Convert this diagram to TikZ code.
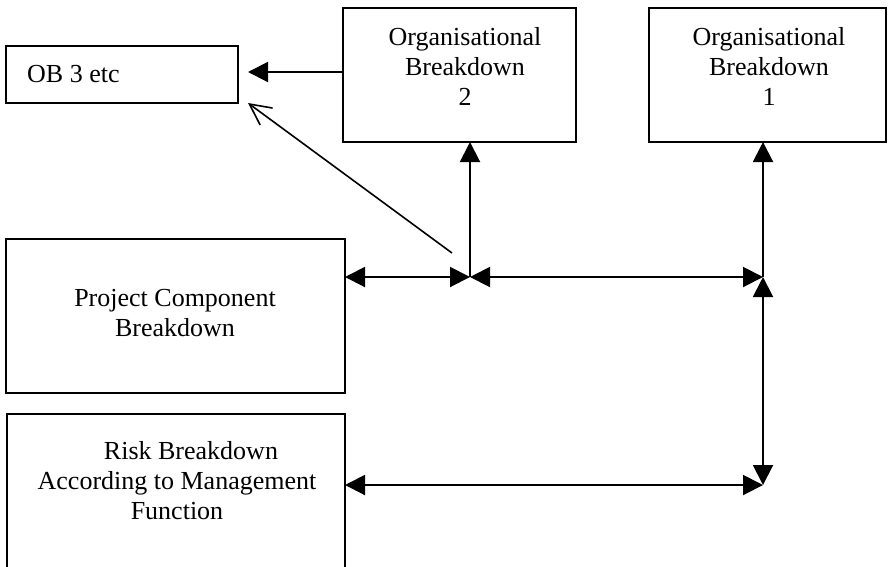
\documentclass[tikz,border=0pt]{standalone}
\usepackage{fontspec}
\setmainfont{Liberation Serif}
\usetikzlibrary{arrows.meta}
\begin{document}
\begin{tikzpicture}[x=1pt,y=-1pt,
  box/.style={draw=black,line width=2pt,inner sep=0pt},
  txt/.style={font=\fontsize{26}{30}\selectfont,align=center,inner sep=0pt},
  link/.style={line width=2pt},
  tip/.style={-{Triangle[length=20pt,width=20pt]}},
  tips/.style={{Triangle[length=20pt,width=20pt]}-{Triangle[length=20pt,width=20pt]}},
  barb/.style={line width=1.6pt,-{Straight Barb[length=21pt,width=21pt,line width=1.6pt]}}]
\useasboundingbox (0,0) rectangle (890,566);

% boxes
\draw[box] (6,46) rectangle (238,103) node[midway] (ob3) {};
\draw[box] (343,8) rectangle (576,142) node[midway] (ob2) {};
\draw[box] (649,8) rectangle (886,142) node[midway] (ob1) {};
\draw[box] (6,239) rectangle (345,393) node[midway] (pcb) {};
\draw[box] (7,414) rectangle (345,580) node[midway] (rbm) {};

% box texts
\node[txt,anchor=west] (ob3t) at (27,74) {OB 3 etc};
\node[txt] (ob2t) at (465,66) {Organisational\\Breakdown\\2};
\node[txt] (ob1t) at (769,66) {Organisational\\Breakdown\\1};
\node[txt] (pcbt) at (175,313) {Project Component\\Breakdown};
\node[txt] (rbmt) at (177,481) {\hspace*{28pt}Risk Breakdown\\According to Management\\Function};

% junction points
\coordinate (j1) at (470,277);
\coordinate (j2) at (763,277);
\coordinate (j3) at (763,485);
\coordinate (ob3in) at (248,72);
\coordinate (ob2out) at (343,72);
\coordinate (ob3corner) at (248,103);
\coordinate (diagstart) at (452,253);
\coordinate (ob2in) at (470,142);
\coordinate (ob1in) at (763,142);
\coordinate (pcbin) at (345,277);
\coordinate (rbmin) at (345,485);

% connectors
\draw[link,tip] (ob2out) -- (ob3in);
\draw[barb] (diagstart) -- (ob3corner);
\draw[link,tip] (j1) -- (ob2in);
\draw[link,tips] (pcbin) -- (j1);
\draw[link,tips] (j1) -- (j2);
\draw[link,tip] (j2) -- (ob1in);
\draw[link,tips] (j3) -- (j2);
\draw[link,tips] (rbmin) -- (j3);
\end{tikzpicture}
\end{document}
